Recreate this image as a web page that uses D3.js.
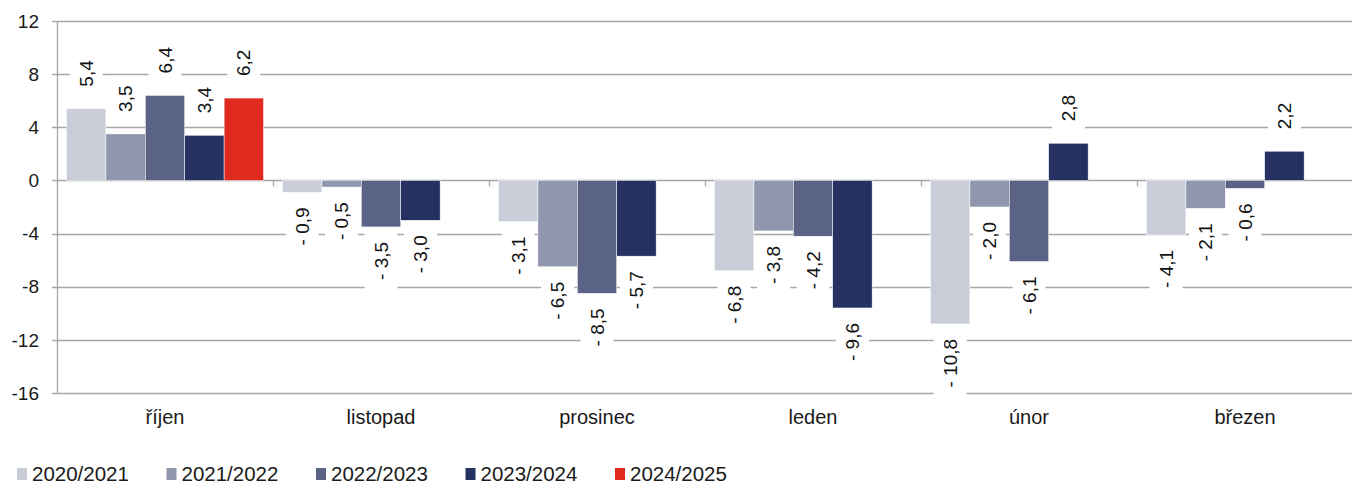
<!DOCTYPE html>
<html>
<head>
<meta charset="utf-8">
<script src="https://cdn.jsdelivr.net/npm/d3@7"></script>
<style>
  body { margin: 0; background: #fff; }
  svg { display: block; font-family: "Liberation Sans", Arial, sans-serif; }
</style>
</head>
<body>
<script>
const months = ['říjen', 'listopad', 'prosinec', 'leden', 'únor', 'březen'];
const seasons = ['2020/2021', '2021/2022', '2022/2023', '2023/2024', '2024/2025'];
const colors = ['#c8cdd8', '#9096ae', '#5a6386', '#253162', '#e02a20'];

// values per season, one per month (null = no data)
const s2020 = [5.4, -0.9, -3.1, -6.8, -10.8, -4.1];
const s2021 = [3.5, -0.5, -6.5, -3.8, -2.0, -2.1];
const s2022 = [6.4, -3.5, -8.5, -4.2, -6.1, -0.6];
const s2023 = [3.4, -3.0, -5.7, -9.6, 2.8, 2.2];
const s2024 = [6.2, null, null, null, null, null];
const seriesValues = [s2020, s2021, s2022, s2023, s2024];

const yTicks = [-16, -12, -8, -4, 0, 4, 8, 12];

const width = 1352, height = 486;
const plotLeft = 57, plotRight = 1353, plotTop = 21, plotBottom = 393;

const svg = d3.select('body').append('svg')
  .attr('width', width)
  .attr('height', height);

const y = d3.scaleLinear().domain([-16, 12]).range([plotBottom, plotTop]);
const x0 = d3.scaleBand().domain(months).range([plotLeft, plotRight]).paddingInner(0).paddingOuter(0);
const x1 = d3.scaleBand().domain(seasons).range([0, x0.bandwidth()]).paddingInner(0).paddingOuter(0.24);

// gridlines
svg.append('g')
  .selectAll('line')
  .data(yTicks)
  .join('line')
  .attr('x1', plotLeft - 5)
  .attr('x2', width)
  .attr('y1', d => Math.round(y(d)) + 0.5)
  .attr('y2', d => Math.round(y(d)) + 0.5)
  .attr('stroke', '#a6a6a6')
  .attr('stroke-width', 1.3);

// y axis line
svg.append('line')
  .attr('x1', plotLeft + 0.5).attr('x2', plotLeft + 0.5)
  .attr('y1', plotTop).attr('y2', plotBottom)
  .attr('stroke', '#a6a6a6')
  .attr('stroke-width', 1.3);

// y tick labels
svg.append('g')
  .selectAll('text')
  .data(yTicks)
  .join('text')
  .attr('x', 39)
  .attr('y', d => y(d))
  .attr('dy', '0.35em')
  .attr('text-anchor', 'end')
  .attr('font-size', 19)
  .attr('fill', '#1a1a1a')
  .text(d => d);

// category ticks on zero line
svg.append('g')
  .selectAll('line')
  .data(months.slice(1))
  .join('line')
  .attr('x1', d => Math.round(x0(d)) + 0.5)
  .attr('x2', d => Math.round(x0(d)) + 0.5)
  .attr('y1', y(0))
  .attr('y2', y(0) + 6)
  .attr('stroke', '#a6a6a6')
  .attr('stroke-width', 1.3);

// bars
const barData = [];
seasons.forEach((s, si) => {
  months.forEach((m, mi) => {
    const v = seriesValues[si][mi];
    if (v !== null) barData.push({ season: s, month: m, value: v, si: si });
  });
});

svg.append('g')
  .selectAll('rect')
  .data(barData)
  .join('rect')
  .attr('x', d => x0(d.month) + x1(d.season))
  .attr('width', x1.bandwidth())
  .attr('y', d => y(Math.max(0, d.value)))
  .attr('height', d => Math.abs(y(d.value) - y(0)))
  .attr('fill', d => colors[d.si])
  .attr('stroke', '#fff')
  .attr('stroke-width', 0.5);

// data labels
const fmt = v => (v < 0 ? '- ' : '') + d3.format('.1f')(Math.abs(v)).replace('.', ',');

const labels = svg.append('g')
  .selectAll('g')
  .data(barData)
  .join('g')
  .attr('transform', d => {
    const cx = x0(d.month) + x1(d.season) + x1.bandwidth() / 2;
    const yy = d.value >= 0 ? y(d.value) - 22 : y(d.value) + 15;
    return `translate(${cx},${yy}) rotate(-90)`;
  });

labels.each(function (d) {
  const g = d3.select(this);
  const t = g.append('text')
    .attr('text-anchor', d.value >= 0 ? 'start' : 'end')
    .attr('dy', '0.35em')
    .attr('font-size', 19)
    .attr('fill', '#111')
    .text(fmt(d.value));
  const bb = t.node().getBBox();
  g.insert('rect', 'text')
    .attr('x', bb.x - 10)
    .attr('width', bb.width + 20)
    .attr('y', -16.5)
    .attr('height', 33)
    .attr('fill', '#fff');
});

// category labels
svg.append('g')
  .selectAll('text')
  .data(months)
  .join('text')
  .attr('x', d => x0(d) + x0.bandwidth() / 2)
  .attr('y', 424)
  .attr('text-anchor', 'middle')
  .attr('font-size', 20)
  .attr('fill', '#1a1a1a')
  .text(d => d);

// legend
const legend = svg.append('g')
  .selectAll('g')
  .data(seasons)
  .join('g')
  .attr('transform', (d, i) => `translate(${17 + i * 149.5},0)`);

legend.append('rect')
  .attr('x', 0)
  .attr('y', 468)
  .attr('width', 10)
  .attr('height', 12)
  .attr('fill', (d, i) => colors[i]);

legend.append('text')
  .attr('x', 15)
  .attr('y', 481)
  .attr('font-size', 20.5)
  .attr('fill', '#1a1a1a')
  .text(d => d);
</script>
</body>
</html>
